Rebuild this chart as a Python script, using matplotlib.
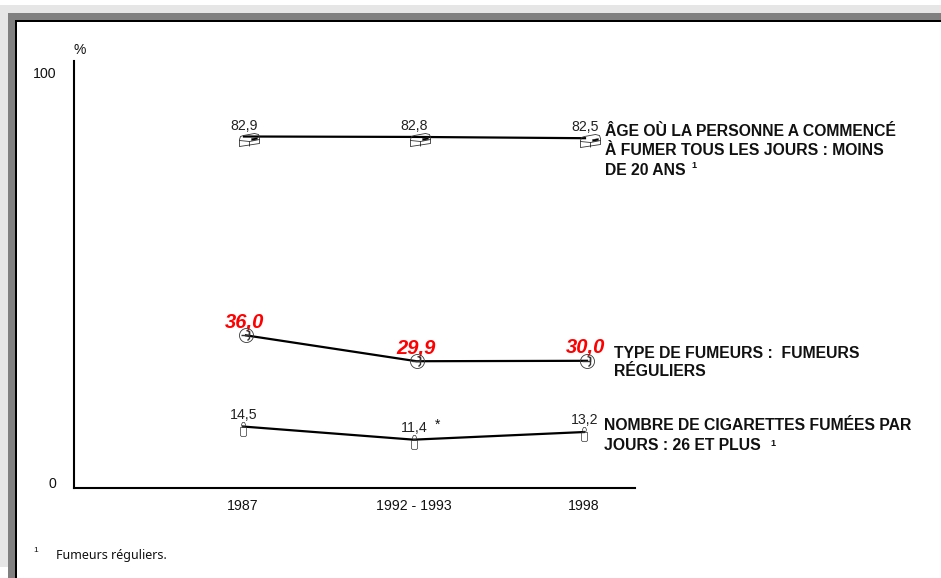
import numpy as np
import matplotlib
matplotlib.use('Agg')
import matplotlib.pyplot as plt
from matplotlib.patches import Rectangle
from matplotlib.path import Path
from matplotlib.transforms import ScaledTranslation

plt.rcParams['font.family'] = ['Liberation Sans', 'DejaVu Sans']

W, H = 941, 578

periods = ['1987', '1992 - 1993', '1998']
age_values = [82.9, 82.8, 82.5]
type_values = [36.0, 29.9, 30.0]
nombre_values = [14.5, 11.4, 13.2]
age_labels = ['82,9', '82,8', '82,5']
type_labels = ['36,0', '29,9', '30,0']
nombre_labels = ['14,5', '11,4', '13,2']

age_title = ['ÂGE OÙ LA PERSONNE A COMMENCÉ', 'À FUMER TOUS LES JOURS : MOINS', 'DE 20 ANS']
type_title = ['TYPE DE FUMEURS :  FUMEURS', 'RÉGULIERS']
nombre_title = ['NOMBRE DE CIGARETTES FUMÉES PAR', 'JOURS : 26 ET PLUS']
footnote = 'Fumeurs réguliers.'


def fx(px):
    return px / W


def fy(py):
    return 1 - py / H


def ftext(px, py, s, **kw):
    kw.setdefault('va', 'center')
    kw.setdefault('color', '#111111')
    return fig.text(fx(px), fy(py), s, **kw)


def px_shift(dx, dy):
    return ScaledTranslation(dx / 100 * 1.0, -dy / 100 * 1.0, fig.dpi_scale_trans)


fig = plt.figure(figsize=(W / 100, H / 100), dpi=100, facecolor='white')

# page frame
def box(x0, y0, x1, y1, **kw):
    fig.patches.append(Rectangle((fx(x0), fy(y1)), (x1 - x0) / W, (y1 - y0) / H,
                                 transform=fig.transFigure, figure=fig, zorder=-5, **kw))


box(0, 5, W, 567, facecolor='#e6e6e6', edgecolor='none')
box(8, 13, W, H, facecolor='#808080', edgecolor='none')
box(15, 20, W, H, facecolor='black', edgecolor='none')
box(17, 22, W, H, facecolor='white', edgecolor='none')

# axes: x from 74 to 635 px, y from 488 to 61 px
ax = fig.add_axes([fx(74), fy(488), (635 - 74) / W, (488 - 61) / H])
ax.patch.set_alpha(0)
ax.set_zorder(2)
x = np.arange(len(periods))
ax.set_xlim((74 - 243) / 170.5, (635 - 243) / 170.5)
ax.set_ylim(0, 427 / 4.24)
for s in ['top', 'right']:
    ax.spines[s].set_visible(False)
for s in ['left', 'bottom']:
    ax.spines[s].set_linewidth(1.5)
    ax.spines[s].set_color('black')

ax.set_xticks(x)
ax.set_xticklabels(periods, fontsize=10.2, color='#111111')
ax.set_yticks([0, 100])
ax.set_yticklabels(['0', '100'], fontsize=10.2, color='#111111')
ax.tick_params(axis='x', length=0, pad=8)
ax.tick_params(axis='y', length=0, pad=13)
ylabs = ax.get_yticklabels()
ylabs[0].set_transform(ylabs[0].get_transform() + px_shift(0, -5))
ylabs[1].set_transform(ylabs[1].get_transform() + px_shift(0, 8))

# hand drawn looking markers, anchored at (0, 0), y up, units are px
M, L = Path.MOVETO, Path.LINETO
pack_path = Path(
    [(-5, -9), (-5, -2), (-4, 1), (-1, 2), (10, 4), (14, 3), (15, 0), (15, -6), (-5, -9),
     (-5, -3), (5, -4), (5, -9), (5, -4), (15, -2)],
    [M, L, L, L, L, L, L, L, L, M, L, L, M, L])
pack_ink = Path([(7, -3), (13, -2), (13, 0), (7, -1), (7, -3)], [M, L, L, L, L])
theta = np.linspace(0, 2 * np.pi, 40)
circle_path = Path(np.column_stack([7 * np.cos(theta), 7 * np.sin(theta)]))
circle_ink = Path([(-5, 0), (3, 0), (3, 4), (0, 5), (3, 4), (3, -3), (1, -5)],
                  [M, L, L, L, M, L, L])
cig_path = Path(
    [(-3, -8), (-2, -9), (2, -9), (3, -8), (3, 0), (-3, 0), (-3, -8),
     (-1.5, 1), (1.5, 1), (2, 3), (1, 5), (-1, 5), (-2, 3), (-1.5, 1)],
    [M, L, L, L, L, L, L, M, L, L, L, L, L, L])


def marker_size(path):
    # custom markers get rescaled so the largest coordinate is half of the size
    return 2 * np.max(np.abs(path.vertices)) * 0.72


def draw_series(values, dx, glyphs):
    off = ax.transData + px_shift(dx, 0)
    ax.plot(x, values, color='black', lw=1.6, transform=off, zorder=3, clip_on=False)
    for path, fc, ew in glyphs:
        ax.plot(x, values, ls='none', marker=path, ms=marker_size(path), mfc=fc,
                mec='#333333', mew=ew, transform=off, zorder=4, clip_on=False)


draw_series(age_values, 1, [(pack_path, 'none', 0.6), (pack_ink, 'black', 0.3)])
draw_series(type_values, 3, [(circle_path, 'none', 0.6), (circle_ink, 'none', 1.0)])
draw_series(nombre_values, 0, [(cig_path, 'none', 0.5)])


def value_labels(values, labels, dx, dy, **kw):
    for xi, v, s in zip(x, values, labels):
        ax.annotate(s, (xi, v), xytext=(dx * 0.72, dy * 0.72), textcoords='offset points',
                    ha='center', va='center', **kw)


value_labels(age_values, age_labels, 1, 11, fontsize=10.2, color='#222222')
value_labels(type_values, type_labels, 2, 13, fontsize=14.5, color='#ff0000',
             fontweight='bold', fontstyle='italic')
value_labels(nombre_values, nombre_labels, 1, 12, fontsize=10.2, color='#222222')

ftext(438, 425, '*', fontsize=10, ha='center')
ftext(80, 50, '%', fontsize=10, ha='center')


def title_lines(px, py, lines, step):
    for i, s in enumerate(lines):
        ftext(px, py + i * step, s, fontsize=11.3, fontweight='bold', ha='left')


title_lines(605, 131, age_title, 19.5)
title_lines(614, 354, type_title, 18)
title_lines(604, 426, nombre_title, 19)
ftext(694, 165, '1', fontsize=6.5, fontweight='bold', ha='center')
ftext(773, 443, '1', fontsize=6.5, fontweight='bold', ha='center')

ftext(33, 551, '1', fontsize=6)
ftext(56, 555, footnote, fontsize=9, family=['Noto Sans', 'DejaVu Sans'])

fig.savefig('out.png', dpi=100, facecolor='white')
